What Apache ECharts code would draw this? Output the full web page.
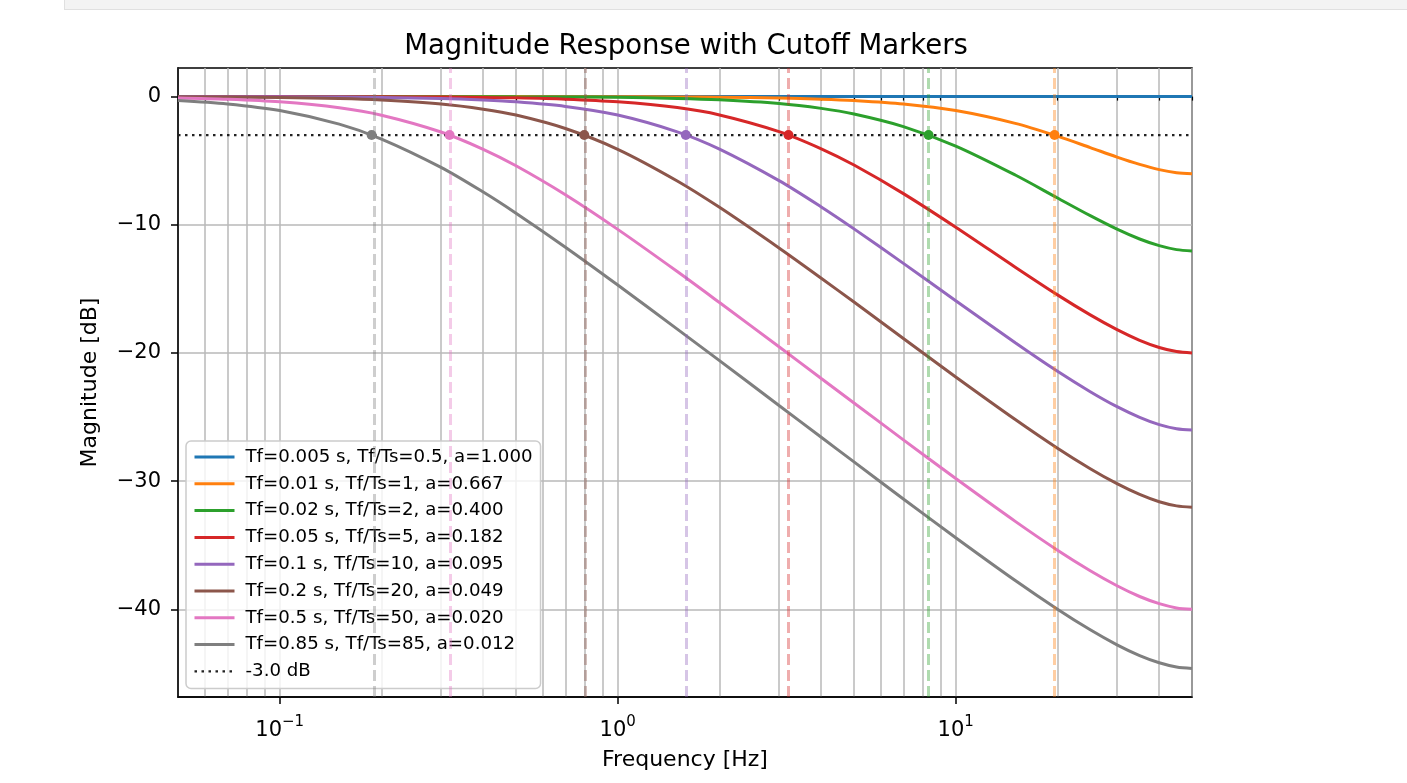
<!DOCTYPE html>
<html>
<head>
<meta charset="utf-8">
<script src="https://cdn.jsdelivr.net/npm/echarts@6.0.0/dist/echarts.min.js"></script>
<style>
html, body { margin: 0; padding: 0; background: #ffffff; }
#chart { position: absolute; left: 0; top: 0; width: 1407px; height: 783px; }
#cellbar { position: absolute; left: 64px; top: 0; width: 1343px; height: 9px; background: #f3f3f3;
  border-left: 1px solid #e0e0e0; border-bottom: 1px solid #e0e0e0; z-index: 5; }
</style>
</head>
<body>
<div id="chart"></div>
<div id="cellbar"></div>
<script>
// ---------------- data ----------------
const freqs = [0.05, 0.07, 0.1, 0.15, 0.2, 0.3, 0.4, 0.5, 0.7, 1, 1.5, 2, 3, 4, 5, 7, 10, 15, 20, 25, 30, 35, 40, 45, 50];

const seriesNames = [
  'Tf=0.005 s, Tf/Ts=0.5, a=1.000',
  'Tf=0.01 s, Tf/Ts=1, a=0.667',
  'Tf=0.02 s, Tf/Ts=2, a=0.400',
  'Tf=0.05 s, Tf/Ts=5, a=0.182',
  'Tf=0.1 s, Tf/Ts=10, a=0.095',
  'Tf=0.2 s, Tf/Ts=20, a=0.049',
  'Tf=0.5 s, Tf/Ts=50, a=0.020',
  'Tf=0.85 s, Tf/Ts=85, a=0.012'
];
const refLineName = '-3.0 dB';

const magTf0005 = [0, 0, 0, 0, 0, 0, 0, 0, 0, 0, 0, 0, 0, 0, 0, 0, 0, 0, 0, 0, 0, 0, 0, 0, 0];
const magTf001  = [0, 0, 0, 0, 0, 0, 0, 0, -0.01, -0.01, -0.03, -0.05, -0.11, -0.2, -0.31, -0.58, -1.09, -2.09, -3.09, -3.98, -4.72, -5.29, -5.7, -5.94, -6.02];
const magTf002  = [0, 0, 0, 0, 0, -0.01, -0.01, -0.02, -0.03, -0.06, -0.14, -0.25, -0.54, -0.92, -1.36, -2.34, -3.86, -6.12, -7.91, -9.29, -10.34, -11.11, -11.63, -11.94, -12.04];
const magTf005  = [0, 0, 0, -0.01, -0.02, -0.04, -0.07, -0.1, -0.2, -0.41, -0.86, -1.43, -2.73, -4.07, -5.34, -7.57, -10.19, -13.31, -15.47, -17.03, -18.18, -19.01, -19.57, -19.89, -20.0];
const magTf01   = [0, -0.01, -0.02, -0.04, -0.07, -0.15, -0.27, -0.41, -0.77, -1.44, -2.75, -4.1, -6.56, -8.61, -10.32, -13.01, -15.92, -19.2, -21.43, -23.02, -24.19, -25.02, -25.59, -25.91, -26.02];
const magTf02   = [-0.02, -0.03, -0.07, -0.15, -0.27, -0.58, -0.98, -1.44, -2.49, -4.11, -6.58, -8.64, -11.81, -14.17, -16.03, -18.87, -21.87, -25.19, -27.43, -29.03, -30.2, -31.04, -31.61, -31.93, -32.04];
const magTf05   = [-0.11, -0.21, -0.41, -0.87, -1.45, -2.76, -4.11, -5.4, -7.66, -10.36, -13.65, -16.07, -19.52, -21.99, -23.9, -26.78, -29.8, -33.14, -35.39, -36.99, -38.16, -39.0, -39.56, -39.89, -40.0];
const magTf085  = [-0.3, -0.57, -1.09, -2.15, -3.31, -5.52, -7.45, -9.1, -11.75, -14.7, -18.14, -20.6, -24.1, -26.58, -28.5, -31.39, -34.41, -37.75, -39.99, -41.6, -42.77, -43.61, -44.17, -44.5, -44.61];

const cutoffFreqs = [null, 19.6, 8.31, 3.2, 1.59, 0.796, 0.318, 0.187];
const cutoffLevelDb = -3.0;

const xRange = [0.05, 50];
const yRange = [-46.84, 2.23];
const xMajorTicks = [0.1, 1, 10];
const xMinorTicks = [0.05, 0.06, 0.07, 0.08, 0.09, 0.2, 0.3, 0.4, 0.5, 0.6, 0.7, 0.8, 0.9, 2, 3, 4, 5, 6, 7, 8, 9, 20, 30, 40, 50];
const yTicks = [-40, -30, -20, -10, 0];

// ---------------- styles ----------------
const colors = ['#1f77b4', '#ff7f0e', '#2ca02c', '#d62728', '#9467bd', '#8c564b', '#e377c2', '#7f7f7f'];
const refColor = '#222222';
const FONT = "'DejaVu Sans', 'Liberation Sans', sans-serif";
const gridLineStyle = { color: '#b8b8b8', width: 1.5 };
const spineStyle = { color: '#000000', width: 1.5 };
const refDash = [2.5, 4.5];

const curves = [magTf0005, magTf001, magTf002, magTf005, magTf01, magTf02, magTf05, magTf085];

const series = curves.map((vals, i) => {
  const s = {
    name: seriesNames[i],
    type: 'line',
    xAxisIndex: 0,
    yAxisIndex: 0,
    data: freqs.map((f, k) => [f, vals[k]]),
    symbol: 'none',
    smooth: 0.3,
    silent: true,
    lineStyle: { color: colors[i], width: 3 },
    itemStyle: { color: colors[i] },
    z: 3
  };
  if (cutoffFreqs[i] !== null) {
    s.markLine = {
      silent: true,
      symbol: 'none',
      label: { show: false },
      emphasis: { disabled: true },
      lineStyle: { color: colors[i], opacity: 0.38, width: 3, type: [11, 5] },
      data: [{ xAxis: cutoffFreqs[i] }]
    };
    s.markPoint = {
      silent: true,
      symbol: 'circle',
      symbolSize: 10,
      label: { show: false },
      itemStyle: { color: colors[i] },
      data: [{ coord: [cutoffFreqs[i], cutoffLevelDb] }]
    };
  }
  return s;
});

series.push({
  name: refLineName,
  type: 'line',
  data: [[xRange[0], cutoffLevelDb], [xRange[1], cutoffLevelDb]],
  symbol: 'none',
  silent: true,
  lineStyle: { color: refColor, width: 2.2, type: refDash },
  itemStyle: { color: refColor },
  z: 4
});

const legendData = seriesNames.map((n, i) => ({
  name: n,
  lineStyle: { color: colors[i], width: 3, type: 'solid' }
})).concat([{
  name: refLineName,
  lineStyle: { color: refColor, width: 2.4, type: refDash }
}]);

function supLabel(v) {
  const e = Math.round(Math.log10(v));
  return '{b|10}{s|' + String(e).replace('-', '\u2212') + '}';
}

const option = {
  animation: false,
  backgroundColor: '#ffffff',
  textStyle: { fontFamily: FONT },
  title: {
    text: 'Magnitude Response with Cutoff Markers',
    left: 681,
    textAlign: 'center',
    top: 28,
    textStyle: { fontFamily: FONT, fontSize: 27.5, fontWeight: 'normal', color: '#000000' }
  },
  grid: {
    left: 178, right: 215, top: 68, bottom: 86,
    show: true, borderColor: '#000000', borderWidth: 1.5, backgroundColor: 'transparent',
    containLabel: false, outerBoundsMode: 'none'
  },
  legend: {
    orient: 'vertical',
    left: 186,
    top: 441,
    itemWidth: 40,
    itemHeight: 14,
    itemGap: 8.8,
    padding: [7, 8, 8, 7],
    backgroundColor: 'rgba(255,255,255,0.8)',
    borderColor: '#cccccc',
    borderWidth: 1.5,
    borderRadius: 5,
    selectedMode: false,
    itemStyle: { color: 'rgba(0,0,0,0)', borderWidth: 0, opacity: 0 },
    textStyle: { fontFamily: FONT, fontSize: 18.2, color: '#000000', padding: [0, 0, 0, 6] },
    data: legendData
  },
  xAxis: [
    {
      type: 'log', logBase: 10, min: xRange[0], max: xRange[1], gridIndex: 0, position: 'bottom',
      name: 'Frequency [Hz]', nameLocation: 'middle', nameGap: 52,
      nameTextStyle: { fontFamily: FONT, fontSize: 22, color: '#000000' },
      axisLine: { show: true, onZero: false, lineStyle: spineStyle },
      axisTick: { show: true, inside: false, length: 7, lineStyle: spineStyle, customValues: xMajorTicks },
      axisLabel: {
        show: true, margin: 18, customValues: xMajorTicks, formatter: supLabel,
        rich: {
          b: { fontFamily: FONT, fontSize: 21, color: '#000000', lineHeight: 26, verticalAlign: 'bottom' },
          s: { fontFamily: FONT, fontSize: 15, color: '#000000', lineHeight: 15, verticalAlign: 'top' }
        }
      },
      splitLine: { show: true, lineStyle: gridLineStyle },
      minorTick: { show: false },
      minorSplitLine: { show: false }
    },
    {
      type: 'log', logBase: 10, min: xRange[0], max: xRange[1], gridIndex: 0, position: 'bottom', offset: 0,
      axisLine: { show: false },
      axisTick: { show: true, inside: false, length: 4, lineStyle: { color: '#000000', width: 1.2 }, customValues: xMinorTicks },
      axisLabel: { show: false },
      splitLine: { show: true, lineStyle: gridLineStyle },
      minorTick: { show: false },
      minorSplitLine: { show: false }
    }
  ],
  yAxis: {
    type: 'value', min: yRange[0], max: yRange[1], gridIndex: 0,
    name: 'Magnitude [dB]', nameLocation: 'middle', nameGap: 77, nameRotate: 90,
    nameTextStyle: { fontFamily: FONT, fontSize: 22, color: '#000000' },
    axisLine: { show: true, onZero: false, lineStyle: spineStyle },
    axisTick: { show: true, inside: false, length: 7, lineStyle: spineStyle, customValues: yTicks },
    axisLabel: {
      show: true, margin: 17, customValues: yTicks, fontFamily: FONT, fontSize: 21, color: '#000000',
      formatter: v => String(v).replace('-', '\u2212')
    },
    splitLine: { show: true, lineStyle: gridLineStyle }
  },
  series: series
};

const chart = echarts.init(document.getElementById('chart'), null, { renderer: 'canvas' });
chart.setOption(option);
</script>
</body>
</html>
